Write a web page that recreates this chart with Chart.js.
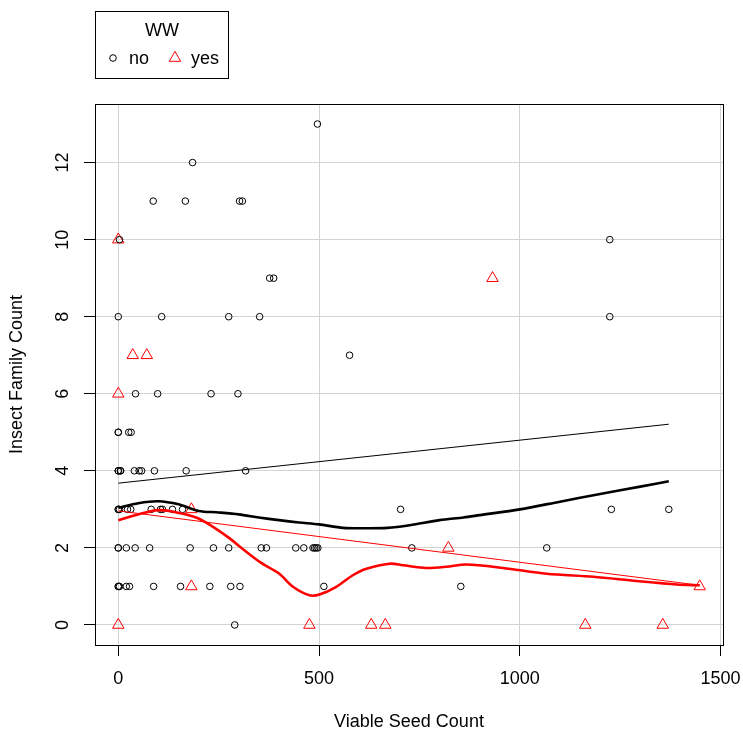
<!DOCTYPE html>
<html>
<head>
<meta charset="utf-8">
<script src="https://cdn.jsdelivr.net/npm/chart.js@4"></script>
<style>
  body { margin: 0; background: #fff; }
</style>
</head>
<body>
<canvas id="seedChart" width="743" height="734"></canvas>
<script>
// WW = no
const noX = [496, 185, 87, 167, 302, 309, 3, 1224, 377, 387, 0, 108, 275, 352, 1224, 576,
  43, 98, 231, 298, 0, 0, 26, 32, 0, 0, 5, 6, 40, 52, 58, 90, 169, 317,
  0, 0, 3, 23, 31, 82, 105, 110, 135, 160, 703, 1228, 1371,
  0, 0, 20, 42, 78, 179, 237, 275, 356, 369, 442, 462, 485, 489, 493, 497, 731, 1067,
  0, 0, 3, 20, 28, 88, 155, 228, 280, 303, 512, 853, 290];
const noY = [13, 12, 11, 11, 11, 11, 10, 10, 9, 9, 8, 8, 8, 8, 8, 7,
  6, 6, 6, 6, 5, 5, 5, 5, 4, 4, 4, 4, 4, 4, 4, 4, 4, 4,
  3, 3, 3, 3, 3, 3, 3, 3, 3, 3, 3, 3, 3,
  2, 2, 2, 2, 2, 2, 2, 2, 2, 2, 2, 2, 2, 2, 2, 2, 2, 2,
  1, 1, 1, 1, 1, 1, 1, 1, 1, 1, 1, 1, 0];

// WW = yes
const yesX = [0, 932, 36, 71, 0, 182, 822, 182, 1448, 0, 476, 630, 665, 1163, 1356];
const yesY = [10, 9, 7, 7, 6, 3, 2, 1, 1, 0, 0, 0, 0, 0, 0];

// fitted lines
const noLineX = [0, 1371];
const noLineY = [3.68, 5.21];
const yesLineX = [0, 1448];
const yesLineY = [2.96, 1.03];

const noSmoothX = [0, 50, 100, 150, 200, 250, 300, 350, 400, 450, 500, 560, 620, 670, 726,
  800, 860, 900, 1000, 1100, 1200, 1300, 1371];
const noSmoothY = [3.04, 3.16, 3.21, 3.13, 2.96, 2.92, 2.87, 2.79, 2.72, 2.66, 2.61, 2.52,
  2.51, 2.52, 2.59, 2.72, 2.79, 2.85, 3.00, 3.20, 3.40, 3.59, 3.73];
const yesSmoothX = [0, 65, 98, 131, 190, 223, 273, 314, 356, 401, 435, 476, 501, 543, 584,
  618, 676, 709, 767, 817, 867, 958, 1067, 1183, 1291, 1391, 1448];
const yesSmoothY = [2.72, 2.91, 2.98, 2.95, 2.80, 2.63, 2.28, 1.94, 1.61, 1.33, 0.99, 0.77,
  0.79, 0.99, 1.29, 1.46, 1.59, 1.55, 1.48, 1.51, 1.57, 1.48, 1.33, 1.25, 1.14, 1.05, 1.03];

const xTicks = [0, 500, 1000, 1500];
const yTicks = [0, 2, 4, 6, 8, 10, 12];

const FONT = { family: 'Liberation Sans, Arial, sans-serif', size: 18 };

function pts(xs, ys) {
  return xs.map((x, i) => ({ x: x, y: ys[i] }));
}

// R-style box, rotated y labels and the legend
const rStyle = {
  id: 'rStyle',
  afterDraw(chart) {
    const ctx = chart.ctx;
    const a = chart.chartArea;
    ctx.save();
    ctx.strokeStyle = '#000';
    ctx.lineWidth = 1;
    ctx.strokeRect(Math.round(a.left) + 0.5, Math.round(a.top) + 0.5,
      Math.round(a.right - a.left), Math.round(a.bottom - a.top));

    // y tick labels, parallel to the axis
    const ys = chart.scales.y;
    ctx.fillStyle = '#000';
    ctx.font = FONT.size + 'px ' + FONT.family;
    ctx.textAlign = 'center';
    ctx.textBaseline = 'middle';
    yTicks.forEach(v => {
      ctx.save();
      ctx.translate(63, ys.getPixelForValue(v));
      ctx.rotate(-Math.PI / 2);
      ctx.fillText(String(v), 0, 0);
      ctx.restore();
    });

    // legend
    ctx.strokeRect(95.5, 11.5, 133, 67);
    ctx.fillText('WW', 162, 31);
    const items = [
      { ds: chart.data.datasets[0], sx: 113, tx: 129 },
      { ds: chart.data.datasets[1], sx: 175, tx: 191 }
    ];
    items.forEach(it => {
      ctx.strokeStyle = it.ds.borderColor;
      ctx.fillStyle = 'rgba(0,0,0,0)';
      ctx.lineWidth = 1;
      Chart.helpers.drawPoint(ctx, {
        pointStyle: it.ds.pointStyle, radius: it.ds.pointRadius, rotation: 0, borderWidth: 1
      }, it.sx, 58);
      ctx.fillStyle = '#000';
      ctx.textAlign = 'left';
      ctx.fillText(it.ds.label, it.tx, 59);
    });
    ctx.restore();
  }
};

const ctx = document.getElementById('seedChart').getContext('2d');
new Chart(ctx, {
  type: 'scatter',
  data: {
    datasets: [{
      label: 'no',
      data: pts(noX, noY),
      pointStyle: 'circle',
      pointRadius: 3.3,
      borderColor: '#000',
      backgroundColor: 'rgba(0,0,0,0)',
      borderWidth: 1,
      order: 3
    }, {
      label: 'yes',
      data: pts(yesX, yesY),
      pointStyle: 'triangle',
      pointRadius: 6.6,
      borderColor: '#ff0000',
      backgroundColor: 'rgba(0,0,0,0)',
      borderWidth: 1,
      order: 3
    }, {
      label: 'no fit',
      data: pts(noLineX, noLineY),
      showLine: true,
      pointRadius: 0,
      borderColor: '#000',
      borderWidth: 1,
      order: 1
    }, {
      label: 'yes fit',
      data: pts(yesLineX, yesLineY),
      showLine: true,
      pointRadius: 0,
      borderColor: '#ff0000',
      borderWidth: 1,
      order: 1
    }, {
      label: 'no smooth',
      data: pts(noSmoothX, noSmoothY),
      showLine: true,
      pointRadius: 0,
      borderColor: '#000',
      borderWidth: 2.6,
      tension: 0.3,
      order: 1
    }, {
      label: 'yes smooth',
      data: pts(yesSmoothX, yesSmoothY),
      showLine: true,
      pointRadius: 0,
      borderColor: '#ff0000',
      borderWidth: 2.6,
      tension: 0.3,
      order: 1
    }]
  },
  options: {
    responsive: false,
    animation: false,
    events: [],
    layout: { padding: { top: 104, right: 20, left: 0, bottom: 0 } },
    plugins: {
      legend: { display: false },
      tooltip: { enabled: false }
    },
    scales: {
      x: {
        type: 'linear',
        min: -58,
        max: 1506,
        afterBuildTicks: s => { s.ticks = xTicks.map(v => ({ value: v })); },
        afterFit: s => { s.height = 89; s.paddingLeft = 0; s.paddingRight = 0; },
        grid: { color: '#d3d3d3', tickColor: '#000', tickLength: 11, lineWidth: 1 },
        border: { display: false },
        ticks: {
          font: FONT, color: '#000', padding: 12, maxRotation: 0,
          callback: v => String(v)
        },
        title: {
          display: true,
          text: 'Viable Seed Count',
          font: FONT,
          color: '#000',
          padding: { top: 0, bottom: 1 }
        }
      },
      y: {
        type: 'linear',
        min: -0.52,
        max: 13.52,
        afterBuildTicks: s => { s.ticks = yTicks.map(v => ({ value: v })); },
        afterFit: s => { s.width = 95; s.paddingTop = 0; s.paddingBottom = 0; },
        grid: { color: '#d3d3d3', tickColor: '#000', tickLength: 11, lineWidth: 1 },
        border: { display: false },
        ticks: { font: FONT, color: 'rgba(0,0,0,0)' },
        title: {
          display: true,
          text: 'Insect Family Count',
          font: FONT,
          color: '#000',
          padding: { top: 6, bottom: 0 }
        }
      }
    }
  },
  plugins: [rStyle]
});
</script>
</body>
</html>
